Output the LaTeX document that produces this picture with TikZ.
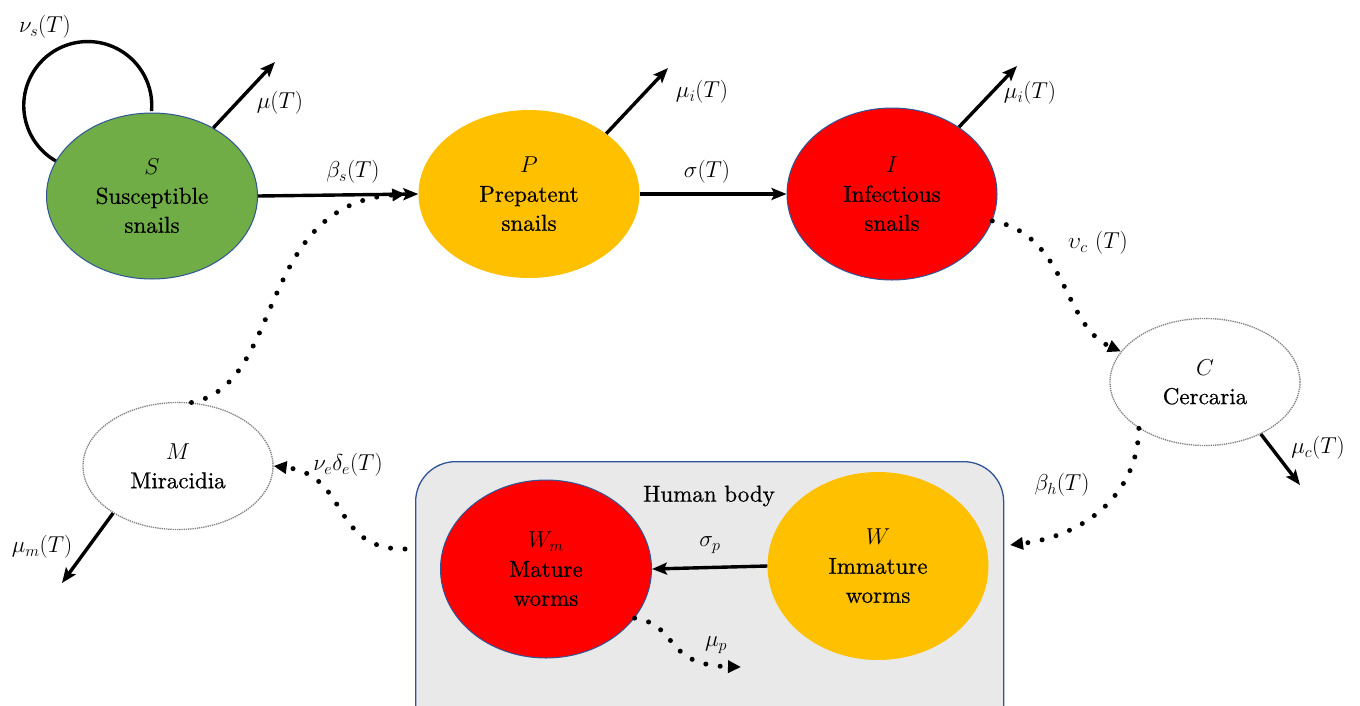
\documentclass[tikz,border=0pt]{standalone}
\usepackage{fix-cm}
\usepackage{fontspec}
\setmainfont{lmroman10-regular.otf}[FakeBold=0.6]
\usetikzlibrary{shapes.geometric,arrows.meta}
\definecolor{sgreen}{HTML}{70AD47}
\definecolor{pyellow}{HTML}{FFC000}
\definecolor{ired}{HTML}{FF0000}
\definecolor{oblue}{HTML}{2F5597}
\definecolor{boxgray}{HTML}{E9E9E9}
\definecolor{dotgray}{HTML}{808080}
\begin{document}
\begin{tikzpicture}[x=1pt,y=1pt,
  every node/.style={font=\rmfamily\fontsize{23}{29}\selectfont},
  comp/.style={ellipse, inner sep=0pt, align=center},
  solidcomp/.style={comp, draw=oblue, line width=1pt},
  dotcomp/.style={comp, draw=dotgray, fill=white, line width=1.3pt, dash pattern=on 1.3pt off 0.9pt},
  flow/.style={line width=3.4pt, -{Stealth[length=15pt,width=12pt,inset=3pt]}},
  dotflow/.style={line width=5pt, line cap=round, dash pattern=on 0pt off 14.5pt, -{Triangle[length=13pt,width=12pt]}},
  lbl/.style={inner sep=0pt}
]
\clip (0,0) rectangle (1360,-705);
\fill[white] (0,0) rectangle (1360,-705);

% human body box
\node[draw=oblue, fill=boxgray, line width=1.3pt, rounded corners=40pt,
      minimum width=588pt, minimum height=300pt, anchor=north west, inner sep=0pt] (H) at (415,-461) {};
\node[lbl] (Hl) at (709,-496) {Human body};

% compartments
\node[solidcomp, fill=sgreen, minimum width=211pt, minimum height=166pt] (S) at (152,-196) {$S$\\Susceptible\\snails};
\node[comp, fill=pyellow, minimum width=221pt, minimum height=168pt] (P) at (529,-194) {$P$\\Prepatent\\snails};
\node[solidcomp, fill=ired, minimum width=210pt, minimum height=172pt] (I) at (892,-194) {$I$\\Infectious\\snails};
\node[dotcomp, minimum width=190pt, minimum height=127pt] (C) at (1205,-382) {$C$\\Cercaria};
\node[dotcomp, minimum width=190pt, minimum height=127pt] (M) at (178,-466) {$M$\\Miracidia};
\node[solidcomp, fill=ired, minimum width=211pt, minimum height=178pt] (Wm) at (546,-569) {$W_m$\\Mature\\worms};
\node[comp, fill=pyellow, minimum width=221pt, minimum height=188pt] (W) at (878,-566) {$W$\\Immature\\worms};

% free ends
\coordinate (muS) at (275,-62);
\coordinate (muP) at (668,-68);
\coordinate (muI) at (1017,-66);
\coordinate (muC) at (1300,-485);
\coordinate (muM) at (62,-583);
\coordinate (muWm) at (741,-667);
\coordinate (hin) at (1010,-545);
\coordinate (hout) at (405,-549);

% solid flows
\draw[flow] (S.east) -- (P.west);
\draw[flow] (P.east) -- (I.west);
\draw[flow] (W.west) -- (Wm.east);
\draw[flow] (S.48) -- (muS);
\draw[flow] (P.38) -- (muP);
\draw[flow] (I.45) -- (muI);
\draw[flow] (C.-43) -- (muC);
\draw[flow] (M.216) -- (muM);
\draw[line width=3.4pt] (S.160) arc[start angle=240, end angle=-5, radius=64];

% dotted flows
\draw[dotflow] (M.78) .. controls (285,-385) and (255,-205) .. ([xshift=-13pt]P.west);
\draw[dotflow] (I.-15) .. controls (1068,-235) and (1062,-325) .. (C.160);
\draw[dotflow] (C.215) .. controls (1138,-490) and (1090,-535) .. (hin);
\draw[dotflow] (hout) .. controls (330,-550) and (350,-475) .. (M.east);
\draw[dotflow] (Wm.-29) .. controls (680,-625) and (662,-665) .. (muWm);

% labels
\node[lbl] (lnus) at (45,-27) {$\nu_s(T)$};
\node[lbl] (lmu) at (280,-103) {$\mu(T)$};
\node[lbl] (lbs) at (353,-172) {$\beta_s(T)$};
\node[lbl] (lmuP) at (702,-92) {$\mu_i(T)$};
\node[lbl] (lsig) at (707,-172) {$\sigma(T)$};
\node[lbl] (lmuI) at (1030,-93) {$\mu_i(T)$};
\node[lbl] (lnuc) at (1098,-243) {$\upsilon_c\ (T)$};
\node[lbl] (lmuc) at (1318,-448) {$\mu_c(T)$};
\node[lbl] (lbh) at (1062,-485) {$\beta_h(T)$};
\node[lbl] (lnue) at (348,-465) {$\nu_e\delta_e(T)$};
\node[lbl] (lmum) at (42,-547) {$\mu_m(T)$};
\node[lbl] (lsp) at (710,-545) {$\sigma_p$};
\node[lbl] (lmup) at (716,-645) {$\mu_p$};
\end{tikzpicture}
\end{document}
